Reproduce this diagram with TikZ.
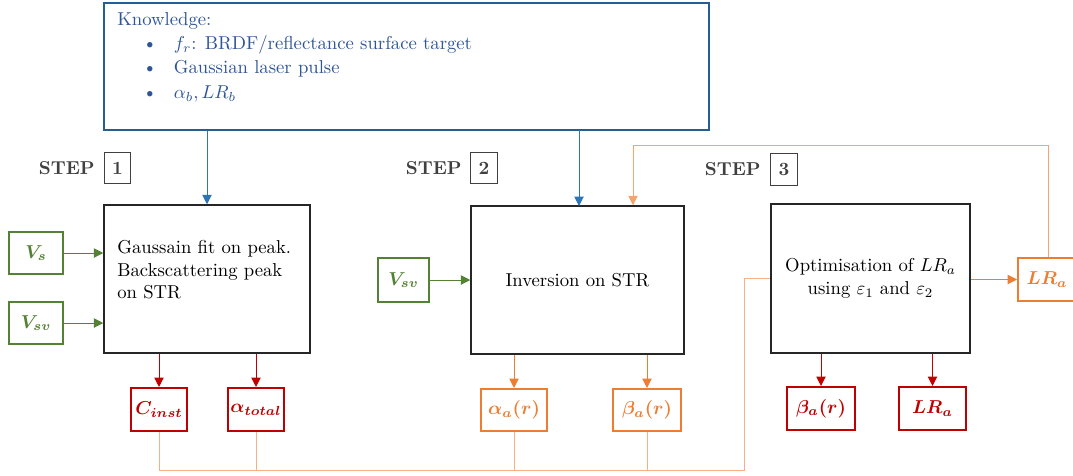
\documentclass[tikz,border=0pt]{standalone}
\usepackage{amsmath}
\usepackage{bm}
\usetikzlibrary{arrows.meta}
\definecolor{kblue}{HTML}{2E75B6}
\definecolor{ktext}{HTML}{2F5597}
\definecolor{kgreen}{HTML}{548235}
\definecolor{kred}{HTML}{C00000}
\definecolor{korange}{HTML}{ED7D31}
\definecolor{kgray}{HTML}{404040}
\begin{document}
\begin{tikzpicture}[x=0.535pt,y=-0.535pt,
  proc/.style={draw=black!85,line width=0.8pt,inner sep=0pt},
  gbox/.style={draw=kgreen,line width=1.1pt,text=kgreen,inner sep=0pt,font=\normalsize},
  rbox/.style={draw=kred,line width=1.1pt,text=kred,inner sep=0pt,font=\normalsize},
  obox/.style={draw=korange,line width=1.1pt,text=korange,inner sep=0pt,font=\normalsize},
  stepnum/.style={draw=kgray,line width=0.6pt,text=kgray,font=\bfseries,inner sep=0pt,minimum width=14pt,minimum height=17pt},
  steptxt/.style={text=kgray,font=\bfseries,inner sep=0pt},
  tip/.style={-{Triangle[length=5pt,width=5pt]}},
  conn/.style={line width=0.5pt}
]
\useasboundingbox (0,0) rectangle (1073,475);

% knowledge box
\node[draw=kblue!80!black,line width=0.6pt,minimum width=605*0.535pt,minimum height=127*0.535pt,inner sep=0pt] (know) at (406.5,66.5) {};
\node[anchor=north west,align=left,text=ktext,inner sep=0pt] (ktxt) at (117,12) {Knowledge:\\[1pt]
\hspace{13.5pt}\textbullet\hspace{9pt}$f_r$: BRDF/reflectance surface target\\[1pt]
\hspace{13.5pt}\textbullet\hspace{9pt}Gaussian laser pulse\\[1pt]
\hspace{13.5pt}\textbullet\hspace{9pt}$\alpha_b, LR_b$};

% steps
\node[steptxt,anchor=east] (s1t) at (95,168) {STEP};
\node[stepnum] (s1) at (117.5,168) {1};
\node[steptxt,anchor=east] (s2t) at (462,168) {STEP};
\node[stepnum] (s2) at (484,168) {2};
\node[steptxt,anchor=east] (s3t) at (761,169) {STEP};
\node[stepnum] (s3) at (784,169.5) {3};

% process boxes
\node[proc,minimum width=206*0.535pt,minimum height=148*0.535pt] (b1) at (207,279) {};
\node[anchor=west,align=left,inner sep=0pt] (b1t) at (117,270) {Gaussain fit on peak.\\Backscattering peak\\on STR};
\node[proc,minimum width=213*0.535pt,minimum height=148*0.535pt] (b2) at (577.5,280) {Inversion on STR};
\node[proc,minimum width=199*0.535pt,minimum height=149*0.535pt,align=center] (b3) at (870.5,278.5) {Optimisation of $LR_a$\\using $\varepsilon_1$ and $\varepsilon_2$};

% green inputs
\node[gbox,minimum width=54*0.535pt,minimum height=42*0.535pt] (vs) at (36,253) {$\bm{V_s}$};
\node[gbox,minimum width=54*0.535pt,minimum height=42*0.535pt] (vsv) at (36,323) {$\bm{V_{sv}}$};
\node[gbox,minimum width=51*0.535pt,minimum height=44*0.535pt] (vsv2) at (403.5,280) {$\bm{V_{sv}}$};

% outputs
\node[rbox,minimum width=56*0.535pt,minimum height=43*0.535pt] (cinst) at (159,409.5) {$\bm{C_{inst}}$};
\node[rbox,minimum width=56*0.535pt,minimum height=43*0.535pt] (atot) at (256,409.5) {$\bm{\alpha_{total}}$};
\node[obox,minimum width=66*0.535pt,minimum height=42*0.535pt] (aa) at (514,410) {$\bm{\alpha_a(r)}$};
\node[obox,minimum width=68*0.535pt,minimum height=42*0.535pt] (ba) at (647,410) {$\bm{\beta_a(r)}$};
\node[rbox,minimum width=68*0.535pt,minimum height=43*0.535pt] (ba3) at (821,408.5) {$\bm{\beta_a(r)}$};
\node[rbox,minimum width=67*0.535pt,minimum height=43*0.535pt] (lr3) at (932.5,408.5) {$\bm{LR_a}$};
\node[obox,minimum width=58*0.535pt,minimum height=43*0.535pt,anchor=west] (lro) at (1017,279.5) {$\bm{LR_a}$};

% blue arrows
\draw[conn,kblue,tip] (know.south -| b1) -- (b1.north);
\draw[conn,kblue,tip] (579,130) -- (579,206);

% green arrows
\draw[conn,kgreen,tip] (vs.east) -- (vs.east -| b1.west);
\draw[conn,kgreen,tip] (vsv.east) -- (vsv.east -| b1.west);
\draw[conn,kgreen,tip] (vsv2.east) -- (vsv2.east -| b2.west);

% red/orange outputs
\draw[conn,kred,tip] (cinst.north |- b1.south) -- (cinst.north);
\draw[conn,kred,tip] (atot.north |- b1.south) -- (atot.north);
\draw[conn,korange,tip] (aa.north |- b2.south) -- (aa.north);
\draw[conn,korange,tip] (ba.north |- b2.south) -- (ba.north);
\draw[conn,kred,tip] (ba3.north |- b3.south) -- (ba3.north);
\draw[conn,kred,tip] (lr3.north |- b3.south) -- (lr3.north);
\draw[conn,korange,tip] (b3.east |- lro.west) -- (lro.west);

% feedback
\coordinate (fb1) at (1048,145);
\coordinate (fb2) at (633,145);
\draw[conn,korange!70,tip] (lro.north -| fb1) -- (fb1) -- (fb2) -- (fb2 |- b2.north);

% bottom collector
\coordinate (bl) at (158,470);
\coordinate (br) at (744,470);
\draw[conn,korange!60] (cinst.south) -- (cinst.south |- bl) -- (br) -- (br |- b3.west) -- (b3.west);
\draw[conn,korange!60] (atot.south) -- (atot.south |- bl);
\draw[conn,korange!60] (aa.south) -- (aa.south |- bl);
\draw[conn,korange!60] (ba.south) -- (ba.south |- bl);
\end{tikzpicture}
\end{document}
